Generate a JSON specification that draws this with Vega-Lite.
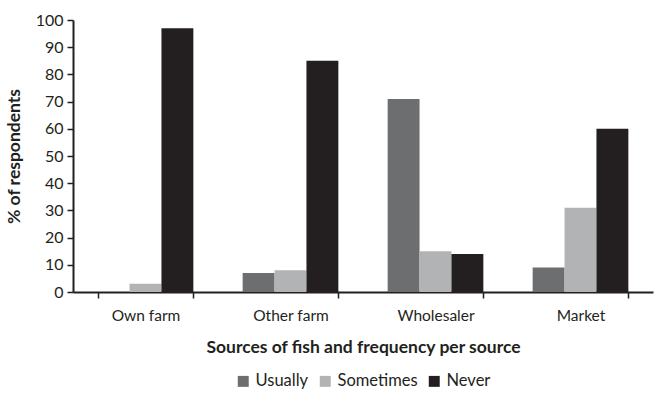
{
  "$schema": "https://vega.github.io/schema/vega-lite/v6.json",
  "width": 580,
  "height": 272,
  "autosize": "none",
  "padding": {"left": 73, "top": 20, "right": 2, "bottom": 101},
  "background": "white",
  "config": {
    "view": {"stroke": null},
    "font": "Lato",
    "axis": {"labelFont": "Lato", "titleFont": "Lato", "labelColor": "#231f20", "titleColor": "#231f20", "grid": false}
  },
  "data": {
    "values": [
      {"source": "Own farm", "frequency": "Usually", "pct": 0},
      {"source": "Own farm", "frequency": "Sometimes", "pct": 3},
      {"source": "Own farm", "frequency": "Never", "pct": 97},
      {"source": "Other farm", "frequency": "Usually", "pct": 7},
      {"source": "Other farm", "frequency": "Sometimes", "pct": 8},
      {"source": "Other farm", "frequency": "Never", "pct": 85},
      {"source": "Wholesaler", "frequency": "Usually", "pct": 71},
      {"source": "Wholesaler", "frequency": "Sometimes", "pct": 15},
      {"source": "Wholesaler", "frequency": "Never", "pct": 14},
      {"source": "Market", "frequency": "Usually", "pct": 9},
      {"source": "Market", "frequency": "Sometimes", "pct": 31},
      {"source": "Market", "frequency": "Never", "pct": 60}
    ]
  },
  "mark": {"type": "bar"},
  "encoding": {
    "x": {
      "field": "source",
      "type": "nominal",
      "sort": ["Own farm", "Other farm", "Wholesaler", "Market"],
      "scale": {"paddingInner": 0.34, "paddingOuter": 0.17},
      "axis": {
        "title": "Sources of fish and frequency per source",
        "titleFontSize": 17.5,
        "titleFontWeight": "bold",
        "titlePadding": 15,
        "labelAngle": 0,
        "labelFontSize": 15.5,
        "labelPadding": 10,
        "tickBand": "extent",
        "tickSize": 6,
        "tickColor": "#231f20",
        "tickWidth": 1.5,
        "domainColor": "#231f20",
        "domainWidth": 2
      }
    },
    "xOffset": {
      "field": "frequency",
      "type": "nominal",
      "sort": ["Usually", "Sometimes", "Never"],
      "scale": {"paddingInner": 0, "paddingOuter": 0}
    },
    "y": {
      "field": "pct",
      "type": "quantitative",
      "scale": {"domain": [0, 100], "nice": false},
      "axis": {
        "title": "% of respondents",
        "titleFontSize": 17.5,
        "titleFontWeight": "bold",
        "titlePadding": 12,
        "values": [0, 10, 20, 30, 40, 50, 60, 70, 80, 90, 100],
        "labelFontSize": 16,
        "labelPadding": 4,
        "tickSize": 6,
        "tickColor": "#231f20",
        "tickWidth": 1.5,
        "domainColor": "#231f20",
        "domainWidth": 2
      }
    },
    "color": {
      "field": "frequency",
      "type": "nominal",
      "sort": ["Usually", "Sometimes", "Never"],
      "scale": {"domain": ["Usually", "Sometimes", "Never"], "range": ["#6d6e70", "#b1b3b5", "#231f20"]},
      "legend": {
        "title": null,
        "orient": "none",
        "legendX": 162,
        "legendY": 353,
        "direction": "horizontal",
        "symbolType": "square",
        "symbolSize": 120,
        "symbolStrokeWidth": 0,
        "labelFontSize": 16.5,
        "labelColor": "#231f20",
        "labelFont": "Lato",
        "labelOffset": 4,
        "columnPadding": 8
      }
    }
  }
}
